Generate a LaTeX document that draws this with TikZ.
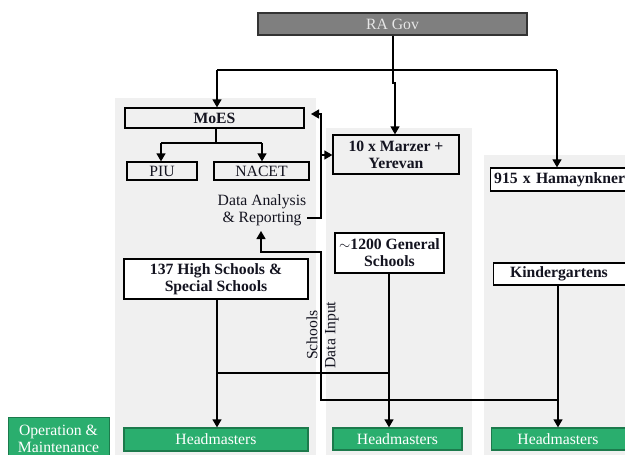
\documentclass[tikz,border=0pt]{standalone}
\usepackage{fontspec}
\setmainfont{Liberation Serif}
\usetikzlibrary{arrows.meta}
\definecolor{panelgray}{HTML}{F0F0F0}
\definecolor{govfill}{HTML}{7F7F7F}
\definecolor{govtext}{HTML}{E6E6E6}
\definecolor{hmgreen}{HTML}{2AAE6E}
\definecolor{hmborder}{HTML}{1C7A4C}
\definecolor{txt}{HTML}{141420}
\tikzset{
  base/.style={inner sep=0pt, font=\fontsize{15.7}{17}\selectfont, align=center, line width=1.3pt},
  graybox/.style={base, draw=black, fill=panelgray, text=txt, font=\fontsize{15.7}{17}\selectfont\bfseries},
  whitebox/.style={base, draw=black, fill=white, text=txt, font=\fontsize{15.7}{17}\selectfont\bfseries},
  greenbox/.style={base, draw=hmborder, fill=hmgreen, text=white},
  conn/.style={line width=1.3pt, draw=black},
  arr/.style={conn, -{Triangle[length=8pt,width=9pt]}},
  lbl/.style={inner sep=0pt, font=\fontsize{15.7}{17}\selectfont, text=txt, align=center},
}
\begin{document}
\begin{tikzpicture}[x=1pt,y=-1pt]
\useasboundingbox (0,0) rectangle (625,455);
\fill[white] (0,0) rectangle (625,455);
% panels
\fill[panelgray] (115,98) rectangle (316,455);
\fill[panelgray] (326,128) rectangle (472,455);
\fill[panelgray] (484,155) rectangle (625,455);

% nodes
\node[base, draw=black!80, fill=govfill, text=govtext, minimum width=269pt, minimum height=22pt] (ragov) at (392.5,24) {RA Gov};
\node[graybox, minimum width=179pt, minimum height=20pt] (moes) at (214.5,118) {MoES};
\node[graybox, font=\fontsize{15.7}{17}\selectfont, minimum width=70pt, minimum height=18pt] (piu) at (162,171) {PIU};
\node[graybox, font=\fontsize{15.7}{17}\selectfont, minimum width=95pt, minimum height=18pt] (nacet) at (261.5,171) {NACET};
\node[graybox, minimum width=126pt, minimum height=39pt] (marzer) at (396,154.5) {10 x Marzer +\\Yerevan};
\node[whitebox, minimum width=140pt, minimum height=23pt, anchor=west, text width=136pt, align=left] (hamay) at (490,179.5) {\hspace*{1.5pt}915 x Hamaynkner};
\node[whitebox, minimum width=184pt, minimum height=40pt] (hs) at (216,279) {137 High Schools \&\\Special Schools};
\node[whitebox, minimum width=109pt, minimum height=40pt] (gen) at (389.5,253) {$\sim$1200 General\\Schools};
\node[whitebox, minimum width=140pt, minimum height=22pt, anchor=west] (kinder) at (493,274) {};
\node[lbl, font=\fontsize{15.7}{17}\selectfont\bfseries] (kindertxt) at (559,274) {Kindergartens};
\node[greenbox, minimum width=184pt, minimum height=23pt] (hmA) at (216,439.5) {Headmasters};
\node[greenbox, minimum width=129pt, minimum height=22pt] (hmB) at (397.5,439) {Headmasters};
\node[greenbox, minimum width=140pt, minimum height=22pt, anchor=west] (hmC) at (491,439) {};
\node[lbl, text=white] (hmCtxt) at (558,439) {Headmasters};
\node[greenbox, minimum width=101pt, minimum height=44pt, anchor=north west] (opm) at (8,417) {};
\node[lbl, text=white, font=\fontsize{15.7}{17}\selectfont] (opmtxt) at (58.5,438.5) {Operation \&\\Maintenance};

\node[lbl] (da) at (262,210) {Data Analysis\\\& Reporting};
\node[lbl, rotate=90] (schl) at (312,335) {Schools};
\node[lbl, rotate=90] (dinp) at (332,335) {Data Input};

% coordinates
\coordinate (g1) at (393,83);
\coordinate (g2) at (395,83);
\coordinate (hl) at (217,70);
\coordinate (hr) at (557,70);
\coordinate (m1) at (216,143);
\coordinate (ml) at (161,143);
\coordinate (mr) at (262,143);
\coordinate (f0) at (307,218);
\coordinate (f1) at (321,218);
\coordinate (f2) at (321,114);
\coordinate (f3) at (311,114);
\coordinate (fb) at (321,155);
\coordinate (d0) at (558,400);
\coordinate (d1) at (321,400);
\coordinate (d2) at (321,252);
\coordinate (d3) at (261,252);
\coordinate (d4) at (261,231);
\coordinate (s1) at (217,373);
\coordinate (s2) at (389,373);

% connectors
\draw[arr] (ragov.south -| g1) -- (g1) -- (g2) -- (g2 |- marzer.north);
\draw[conn] (hl) -- (hr);
\draw[arr] (hl) -- (hl |- moes.north);
\draw[arr] (hr) -- (hr |- hamay.north);
\draw[conn] (m1 |- moes.south) -- (m1);
\draw[conn] (ml) -- (mr);
\draw[arr] (ml) -- (ml |- piu.north);
\draw[arr] (mr) -- (mr |- nacet.north);
\draw[arr] (f0) -- (f1) -- (f2) -- (f3);
\draw[arr] (fb) -- (fb -| marzer.west);
\draw[arr] (d0) -- (d1) -- (d2) -- (d3) -- (d4);
\draw[arr] (s1 |- hs.south) -- (s1 |- hmA.north);
\draw[arr] (s2 |- gen.south) -- (s2 |- hmB.north);
\draw[conn] (s1) -- (s2);
\draw[arr] (d0 |- kinder.south) -- (d0 |- hmC.north);
\end{tikzpicture}
\end{document}
